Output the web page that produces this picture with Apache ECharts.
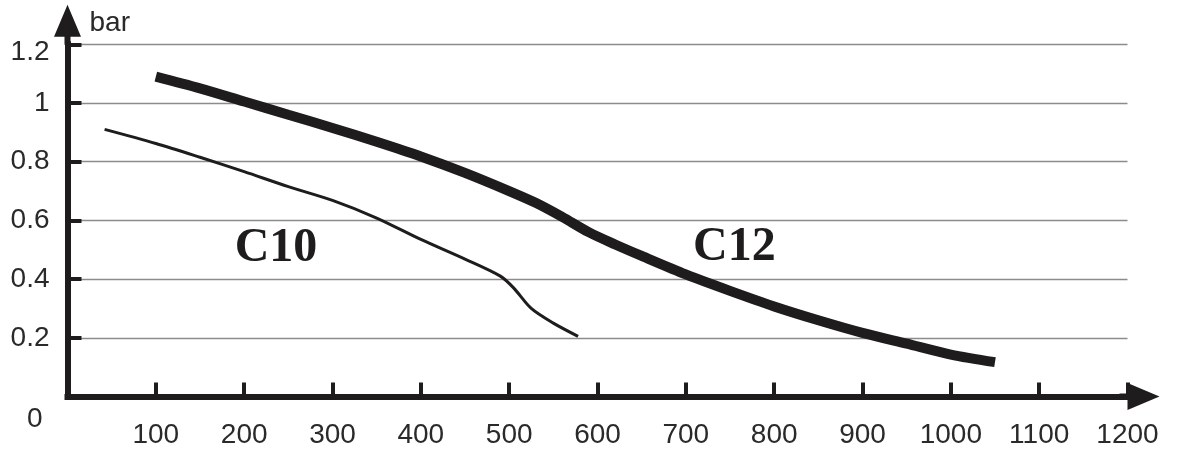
<!DOCTYPE html>
<html>
<head>
<meta charset="utf-8">
<script src="https://cdn.jsdelivr.net/npm/echarts@6/dist/echarts.min.js"></script>
<style>
html,body{margin:0;padding:0;background:#fff;}
#chart{width:1179px;height:454px;}
</style>
</head>
<body>
<div id="chart"></div>
<script>
// Flow (x) vs pressure (bar)
const xC12 = [100, 150, 200, 250, 300, 350, 400, 450, 500, 530, 560, 590, 620, 650, 700, 750, 800, 850, 900, 950, 1000, 1050];
const yC12 = [1.09, 1.05, 1.005, 0.96, 0.915, 0.868, 0.818, 0.762, 0.70, 0.66, 0.612, 0.56, 0.518, 0.479, 0.416, 0.36, 0.307, 0.26, 0.217, 0.18, 0.143, 0.117];
const xC10 = [42, 100, 150, 200, 250, 300, 350, 400, 450, 490, 505, 525, 550, 578];
const yC10 = [0.91, 0.862, 0.815, 0.766, 0.715, 0.668, 0.608, 0.535, 0.468, 0.41, 0.37, 0.30, 0.25, 0.205];
const xTickLabels = ['100', '200', '300', '400', '500', '600', '700', '800', '900', '1000', '1100', '1200'];
const yTickLabels = ['0', '0.2', '0.4', '0.6', '0.8', '1', '1.2'];
const seriesNames = ['C12', 'C10'];
const yUnit = 'bar';

const INK = '#1f1c1d';
const TXT = '#2a2a2a';
const FONT = 'Liberation Sans, Arial, sans-serif';
const FS = 28;
const arrowPath = 'path://M13.5 0 L27 32 L16.5 32 L16.5 40 L10.5 40 L10.5 32 L0 32 Z';

const chart = echarts.init(document.getElementById('chart'), null, {renderer: 'canvas'});
const zip = (xs, ys) => xs.map((x, i) => [x, ys[i]]);

chart.setOption({
  animation: false,
  backgroundColor: '#ffffff',
  grid: {left: 67.5, right: 51.5, top: 44.3, bottom: 57.5, containLabel: false},
  xAxis: {
    type: 'value', min: 0, max: 1200, interval: 100,
    axisLine: {
      show: true, onZero: false,
      lineStyle: {color: INK, width: 6, cap: 'square'},
      symbol: ['none', arrowPath], symbolSize: [27, 40], symbolOffset: [0, 12]
    },
    axisTick: {show: true, inside: true, length: 14, lineStyle: {color: INK, width: 4}},
    axisLabel: {
      margin: 25, fontSize: FS, fontFamily: FONT, color: TXT,
      formatter: function (v) { const s = String(v); return xTickLabels.indexOf(s) >= 0 ? s : ''; }
    },
    splitLine: {show: false}
  },
  yAxis: {
    type: 'value', min: 0, max: 1.2, interval: 0.2,
    name: yUnit, nameLocation: 'end', nameGap: 21,
    nameTextStyle: {fontSize: FS, fontFamily: FONT, color: TXT,
      align: 'left', verticalAlign: 'middle', padding: [0, 0, 0, 22]},
    axisLine: {
      show: true, onZero: false,
      lineStyle: {color: INK, width: 6, cap: 'square'},
      symbol: ['none', arrowPath], symbolSize: [27, 40], symbolOffset: [0, 19.5]
    },
    axisTick: {show: true, inside: true, length: 14, lineStyle: {color: INK, width: 4}},
    axisLabel: {
      margin: 18, fontSize: FS, fontFamily: FONT, color: TXT,
      formatter: function (v) {
        const s = String(Math.round(v * 10) / 10);
        if (yTickLabels.indexOf(s) < 0) return '';
        if (s === '0') return '{z|' + s + '}';
        if (s === '1.2') return '{t|' + s + '}';
        return s;
      },
      rich: {
        z: {fontSize: FS, fontFamily: FONT, color: TXT, padding: [45, 7, 0, 0]},
        t: {fontSize: FS, fontFamily: FONT, color: TXT, padding: [15, 0, 0, 0]}
      }
    },
    splitLine: {show: true, lineStyle: {color: '#8c8c8c', width: 1.3}}
  },
  series: [
    {
      name: seriesNames[0], type: 'line', data: zip(xC12, yC12),
      smooth: 0.3, showSymbol: false, symbol: 'none',
      lineStyle: {color: INK, width: 10, cap: 'butt'},
      z: 5,
      markPoint: {
        symbol: 'circle', symbolSize: 0, silent: true,
        label: {show: true, position: 'inside', formatter: seriesNames[0], fontSize: 48, fontWeight: 'bold',
          fontFamily: 'Liberation Serif, Times New Roman, serif', color: INK},
        data: [{coord: [755, 0.506]}]
      }
    },
    {
      name: seriesNames[1], type: 'line', data: zip(xC10, yC10),
      smooth: 0.3, showSymbol: false, symbol: 'none',
      lineStyle: {color: INK, width: 3, cap: 'butt'},
      z: 5,
      markPoint: {
        symbol: 'circle', symbolSize: 0, silent: true,
        label: {show: true, position: 'inside', formatter: seriesNames[1], fontSize: 48, fontWeight: 'bold',
          fontFamily: 'Liberation Serif, Times New Roman, serif', color: INK},
        data: [{coord: [236, 0.503]}]
      }
    }
  ]
});
</script>
</body>
</html>
